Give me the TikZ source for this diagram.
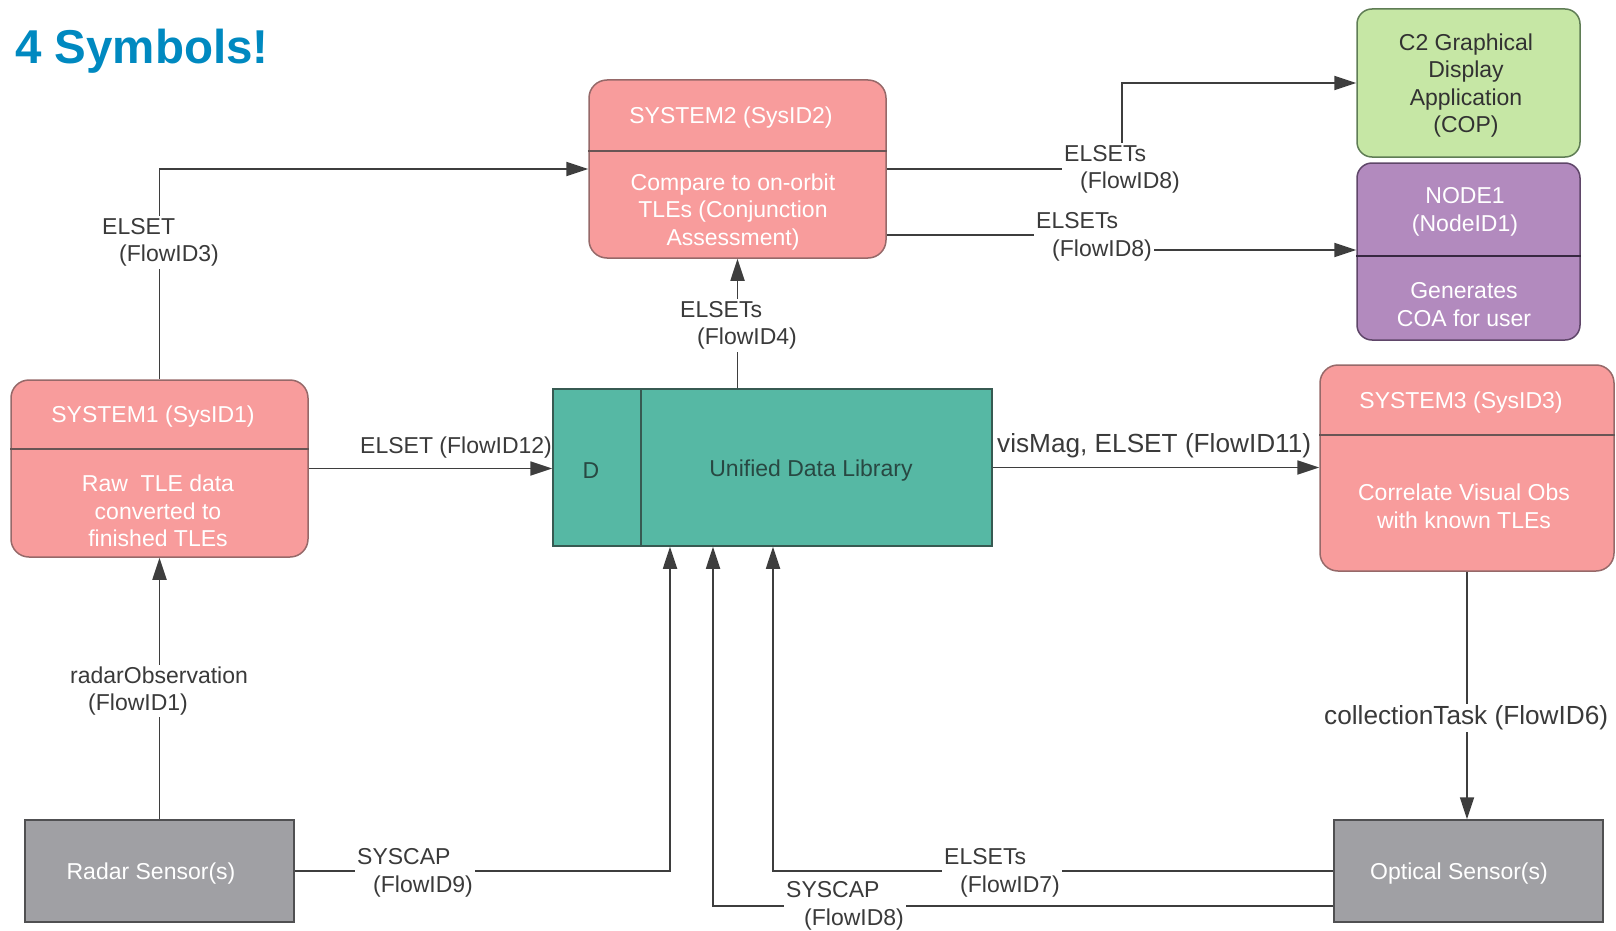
\documentclass[tikz,border=0pt]{standalone}
\usepackage{fontspec}
\setmainfont{Liberation Sans}
\usetikzlibrary{arrows.meta}

\definecolor{titleblue}{RGB}{0,137,192}
\definecolor{pinkfill}{RGB}{248,156,156}
\definecolor{pinkline}{RGB}{150,105,105}
\definecolor{pinkrule}{RGB}{105,85,85}
\definecolor{greenfill}{RGB}{198,231,165}
\definecolor{greenline}{RGB}{95,125,85}
\definecolor{purplefill}{RGB}{178,138,190}
\definecolor{purpleline}{RGB}{95,70,105}
\definecolor{purplerule}{RGB}{55,40,65}
\definecolor{tealfill}{RGB}{86,184,164}
\definecolor{tealline}{RGB}{55,90,82}
\definecolor{tealtext}{RGB}{40,72,66}
\definecolor{sensorfill}{RGB}{160,160,164}
\definecolor{sensorline}{RGB}{80,80,82}
\definecolor{flowgrey}{RGB}{62,62,62}
\definecolor{labelgrey}{RGB}{58,58,58}
\definecolor{darktext}{RGB}{50,50,50}

\begin{document}
\begin{tikzpicture}[x=1pt,y=-1pt,
  every node/.style={font=\fontsize{23}{27.5}\selectfont},
  sysbox/.style={draw=pinkline,line width=1.5pt,fill=pinkfill,rounded corners=18pt,inner sep=0pt},
  appbox/.style={draw=greenline,line width=1.5pt,fill=greenfill,rounded corners=15pt,inner sep=0pt},
  userbox/.style={draw=purpleline,line width=1.5pt,fill=purplefill,rounded corners=15pt,inner sep=0pt},
  storebox/.style={draw=tealline,line width=1.5pt,fill=tealfill,inner sep=0pt},
  sensorbox/.style={draw=sensorline,line width=1.5pt,fill=sensorfill,inner sep=0pt},
  boxtext/.style={text=white,align=center,inner sep=0pt,yshift=-3pt},
  pinkdivider/.style={draw=pinkrule,line width=2pt},
  purpledivider/.style={draw=purplerule,line width=2pt},
  flow/.style={draw=flowgrey,line width=1.8pt,-{Triangle[length=22pt,width=14pt]}},
  flowlabel/.style={fill=white,text=labelgrey,align=left,inner sep=2pt,anchor=west,yshift=-3pt},
  biglabel/.style={flowlabel,font=\fontsize{26.2}{30}\selectfont}
]
\useasboundingbox (0,0) rectangle (1616,931);

% heading
\node[anchor=base west,inner sep=0pt,text=titleblue,
      font=\fontsize{47.5}{50}\selectfont\bfseries] (heading) at (15,64) {4 Symbols!};

% ---------- boxes ----------
\node[sysbox,minimum width=297pt,minimum height=178pt] (sys2) at (737.5,169) {};
\draw[pinkdivider] ([yshift=-72pt]sys2.north west) -- ([yshift=-72pt]sys2.north east);
\node[boxtext] (sys2title) at (731,115) {SYSTEM2 (SysID2)};
\node[boxtext] (sys2body) at (733,209) {Compare to on-orbit\\TLEs (Conjunction\\Assessment)};

\node[appbox,minimum width=223pt,minimum height=148pt] (c2) at (1468.5,83) {};
\node[boxtext,text=darktext] (c2text) at (1466,82.5) {C2 Graphical\\Display\\Application\\(COP)};

\node[userbox,minimum width=223pt,minimum height=177pt] (node1) at (1468.5,251.5) {};
\draw[purpledivider] ([yshift=-94pt]node1.north west) -- ([yshift=-94pt]node1.north east);
\node[boxtext] (node1title) at (1465,209) {NODE1\\(NodeID1)};
\node[boxtext] (node1body) at (1464,301.5) {Generates\\COA for user};

\node[sysbox,minimum width=297pt,minimum height=177pt] (sys1) at (159.5,468.5) {};
\draw[pinkdivider] ([yshift=-70pt]sys1.north west) -- ([yshift=-70pt]sys1.north east);
\node[boxtext] (sys1title) at (153,414) {SYSTEM1 (SysID1)};
\node[boxtext] (sys1body) at (158,508) {Raw\ \ TLE data\\converted to\\finished TLEs};

\node[storebox,minimum width=439pt,minimum height=157pt] (udl) at (772.5,467.5) {};
\draw[draw=tealline,line width=1.8pt] ([xshift=89pt]udl.north west) -- ([xshift=89pt]udl.south west);
\node[boxtext,text=tealtext] (udlkey) at (591,468) {D};
\node[boxtext,text=tealtext] (udlname) at (811,468) {Unified Data Library};

\node[sysbox,minimum width=294pt,minimum height=206pt] (sys3) at (1467,468) {};
\draw[pinkdivider] ([yshift=-71pt]sys3.north west) -- ([yshift=-71pt]sys3.north east);
\node[boxtext] (sys3title) at (1461,400) {SYSTEM3 (SysID3)};
\node[boxtext] (sys3body) at (1464,503.5) {Correlate Visual Obs\\with known TLEs};

\node[sensorbox,minimum width=269pt,minimum height=102pt] (radar) at (159.5,871) {};
\node[boxtext] (radartext) at (151,871) {Radar Sensor(s)};

\node[sensorbox,minimum width=269pt,minimum height=102pt] (optical) at (1468.5,871) {};
\node[boxtext] (opticaltext) at (1459,871) {Optical Sensor(s)};

% ---------- flows ----------
\draw[flow] (sys1.north) |- (sys2.west);
\draw[flow] (sys2.east) -- ++(235,0) |- (c2.west);
\draw[flow] ([yshift=-66pt]sys2.east) -- ++(207,0) |- ([yshift=1.5pt]node1.west);
\draw[flow] (udl.north -| sys2.south) -- (sys2.south);
\draw[flow] (sys1.east) -- (sys1.east -| udl.west);
\draw[flow] (udl.east) -- (udl.east -| sys3.west);
\draw[flow] (radar.north) -- (sys1.south);
\draw[flow] (radar.east) -| ([xshift=-102.5pt]udl.south);
\draw[flow] ([yshift=-35pt]optical.west) -| ([xshift=-59.5pt]udl.south);
\draw[flow] (optical.west) -| ([xshift=0.5pt]udl.south);
\draw[flow] (sys3.south) -- (sys3.south |- optical.north);

% ---------- flow labels ----------
\node[flowlabel] (lab3)  at (100,239.5)  {ELSET\\\hspace*{17pt}(FlowID3)};
\node[flowlabel] (lab8a) at (1062,166.5) {ELSETs\\\hspace*{16pt}(FlowID8)};
\node[flowlabel] (lab8b) at (1034,234)   {ELSETs\\\hspace*{16pt}(FlowID8)};
\node[flowlabel] (lab4)  at (678,322.5)  {ELSETs\\\hspace*{17pt}(FlowID4)};
\node[flowlabel,fill=none] (lab12) at (358,445) {ELSET (FlowID12)};
\node[biglabel,fill=none] (lab11) at (995,443) {visMag, ELSET (FlowID11)};
\node[flowlabel] (lab1)  at (68,688)     {radarObservation\\\hspace*{18pt}(FlowID1)};
\node[flowlabel] (lab9)  at (355,870)    {SYSCAP\\\hspace*{16pt}(FlowID9)};
\node[flowlabel] (lab8c) at (784,903)    {SYSCAP\\\hspace*{18pt}(FlowID8)};
\node[flowlabel] (lab7)  at (942,870)    {ELSETs\\\hspace*{16pt}(FlowID7)};
\node[biglabel] (lab6)   at (1322,715)   {collectionTask (FlowID6)};
\end{tikzpicture}
\end{document}
